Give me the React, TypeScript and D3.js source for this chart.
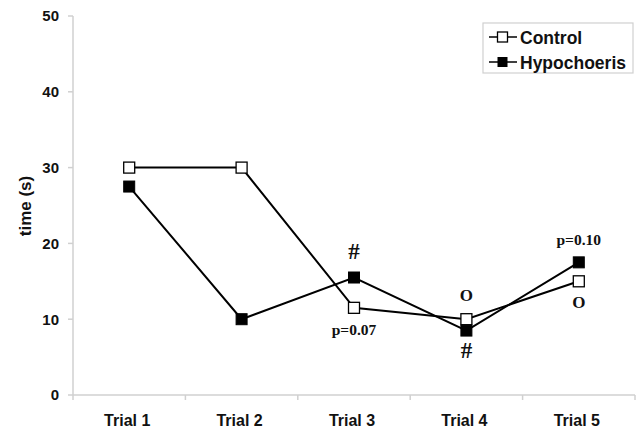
import React from "react";
import * as d3 from "d3";

const categories = ["Trial 1", "Trial 2", "Trial 3", "Trial 4", "Trial 5"];
const controlValues = [30, 30, 11.5, 10, 15];
const hypochoerisValues = [27.5, 10, 15.5, 8.5, 17.5];
const yTicks = [0, 10, 20, 30, 40, 50];
const annotations = [
  { cat: "Trial 3", value: 15.5, text: "#", dy: -27 },
  { cat: "Trial 3", value: 11.5, text: "p=0.07", dy: 22 },
  { cat: "Trial 4", value: 10, text: "O", dy: -24 },
  { cat: "Trial 4", value: 8.5, text: "#", dy: 19 },
  { cat: "Trial 5", value: 17.5, text: "p=0.10", dy: -23 },
  { cat: "Trial 5", value: 15, text: "O", dy: 21 },
];

export default function App() {
  const W = 641, H = 432;
  const left = 73, right = 635, top = 16, bottom = 395;
  const x = d3.scaleBand<string>().domain(categories).range([left, right]);
  const y = d3.scaleLinear().domain([0, 50]).range([bottom, top]);
  const cx = (c: string) => (x(c) as number) + x.bandwidth() / 2;
  const line = d3.line<number>().x((_, i) => cx(categories[i])).y((d) => y(d));
  const axisColor = "#d0d0d0";
  const sans = "'Liberation Sans', Arial, sans-serif";
  const serif = "'Liberation Serif', 'Times New Roman', serif";
  const sq = 11;
  const boundaries = [...categories.map((c) => x(c) as number), right];
  return (
    <svg width={W} height={H} style={{ position: "absolute", left: 0, top: 0, background: "#fff" }}>
      <rect width={W} height={H} fill="#fff" />
      {/* y axis */}
      <line x1={left} x2={left} y1={top} y2={bottom} stroke={axisColor} strokeWidth={1.5} />
      {yTicks.map((t) => (
        <g key={t}>
          <line x1={left - 5} x2={left} y1={y(t)} y2={y(t)} stroke={axisColor} strokeWidth={1.5} />
          <text x={left - 14} y={y(t)} dy="0.36em" textAnchor="end" fontFamily={sans} fontWeight="bold" fontSize={15} fill="#111">
            {t}
          </text>
        </g>
      ))}
      {/* x axis */}
      <line x1={left} x2={right} y1={bottom} y2={bottom} stroke={axisColor} strokeWidth={1.5} />
      {boundaries.map((b, i) => (
        <line key={i} x1={b} x2={b} y1={bottom} y2={bottom + 5} stroke={axisColor} strokeWidth={1.5} />
      ))}
      {categories.map((c) => (
        <text key={c} x={cx(c) - 2} y={426} textAnchor="middle" fontFamily={sans} fontWeight="bold" fontSize={16} fill="#111">
          {c}
        </text>
      ))}
      <text transform={`translate(31,206) rotate(-90)`} textAnchor="middle" fontFamily={sans} fontWeight="bold" fontSize={17} fill="#111">
        time (s)
      </text>
      {/* lines */}
      <path d={line(controlValues) || ""} fill="none" stroke="#000" strokeWidth={2} />
      <path d={line(hypochoerisValues) || ""} fill="none" stroke="#000" strokeWidth={2} />
      {controlValues.map((v, i) => (
        <rect key={"c" + i} x={cx(categories[i]) - sq / 2} y={y(v) - sq / 2} width={sq} height={sq} fill="#fff" stroke="#000" strokeWidth={1.3} />
      ))}
      {hypochoerisValues.map((v, i) => (
        <rect key={"h" + i} x={cx(categories[i]) - sq / 2} y={y(v) - sq / 2} width={sq} height={sq} fill="#000" stroke="#000" strokeWidth={1} />
      ))}
      {annotations.map((a, i) => (
        <text key={i} x={cx(a.cat)} y={y(a.value) + a.dy} dy="0.35em" textAnchor="middle" fontFamily={serif} fontWeight="bold" fontSize={a.text.length > 1 ? 15.5 : a.text === "#" ? 23 : 17} fill="#111">
          {a.text}
        </text>
      ))}
      {/* legend */}
      <rect x={483} y={23} width={150} height={50} fill="#fff" stroke="#d0d0d0" strokeWidth={1.2} />
      <line x1={489} x2={517} y1={37} y2={37} stroke="#000" strokeWidth={1.5} />
      <rect x={497.5} y={32} width={10} height={10} fill="#fff" stroke="#000" strokeWidth={1.3} />
      <text x={520} y={44} fontFamily={sans} fontWeight="bold" fontSize={17.5} fill="#111">Control</text>
      <line x1={489} x2={517} y1={62} y2={62} stroke="#000" strokeWidth={1.5} />
      <rect x={497.5} y={57} width={10} height={10} fill="#000" />
      <text x={520} y={69} fontFamily={sans} fontWeight="bold" fontSize={17.5} fill="#111">Hypochoeris</text>
    </svg>
  );
}
